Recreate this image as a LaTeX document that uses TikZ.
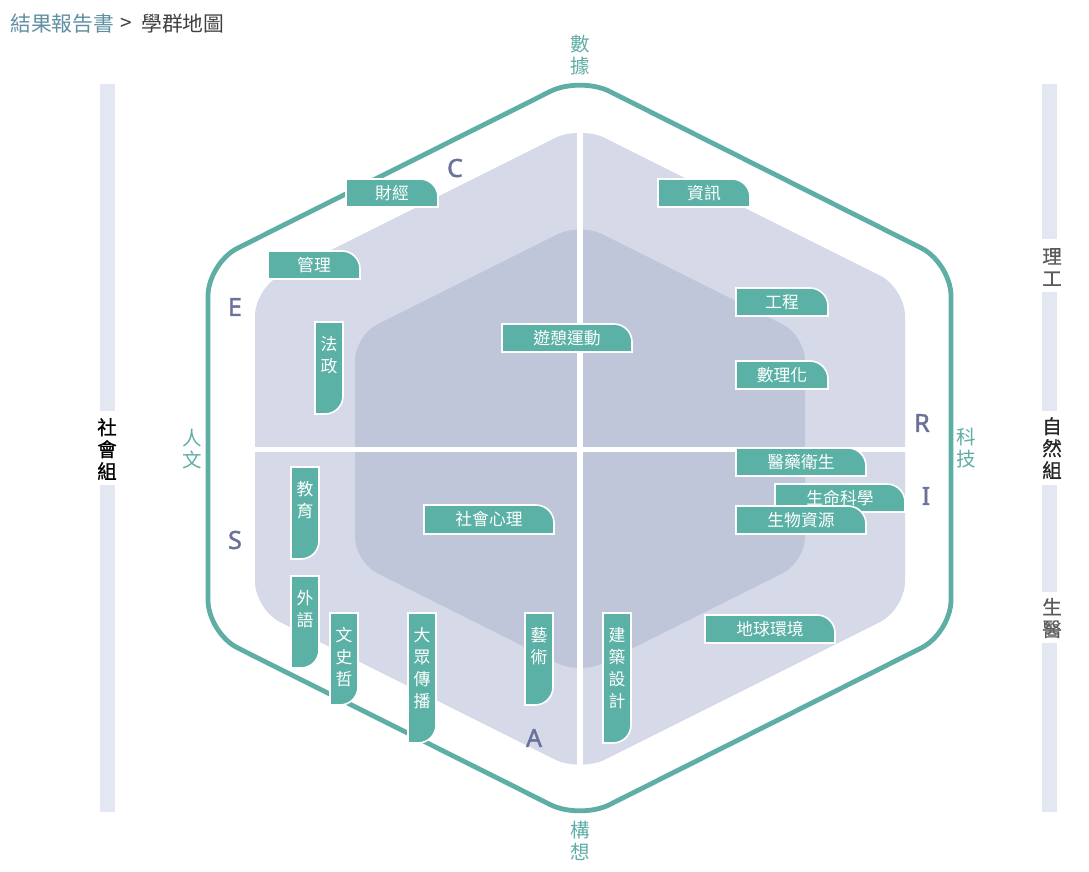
\documentclass[tikz,border=0pt]{standalone}
\usepackage{fontspec}
\setmainfont{Noto Sans CJK TC}
\newfontfamily\latinf[FakeBold=1.6]{Noto Sans}
\newfontfamily\sidef[FakeBold=0.8]{Noto Sans CJK TC}
\definecolor{hexlight}{HTML}{D6DAE8}
\definecolor{hexinner}{HTML}{BFC6D9}
\definecolor{tealtag}{HTML}{5BB1A5}
\definecolor{tealline}{HTML}{5FAEA6}
\definecolor{barc}{HTML}{E2E7F1}
\definecolor{letterc}{HTML}{6B7299}
\definecolor{crumb}{HTML}{5F8FA3}
\definecolor{greytxt}{HTML}{5A5A5A}
\tikzset{
  tagbox/.style={fill=tealtag,draw=white,line width=1.6pt},
  tagtext/.style={text=white,inner sep=0pt,align=center,font=\fontsize{16.8}{22}\selectfont},
  riasec/.style={text=letterc,inner sep=0pt,font=\latinf\fontsize{25}{25}\selectfont},
  axislabel/.style={text=tealline,inner sep=0pt,align=center,font=\fontsize{19.5}{21.5}\selectfont},
  sidelabel/.style={inner sep=0pt,align=center,font=\sidef\fontsize{19.5}{22}\selectfont},
  sidebar/.style={fill=barc,draw=none},
  crumbtext/.style={anchor=west,inner sep=0pt,font=\fontsize{20.8}{24}\selectfont},
}
% name, x0, y0, x1, y1, text
\newcommand{\htagbox}[6]{%
  \path[tagbox] (#2,#3) [rounded corners=18] -- (#4,#3) [sharp corners] -- (#4,#5) -- (#2,#5) -- cycle;
  \node[tagtext] (#1) at ({(#2+#4)/2},{(#3+#5)/2}) {#6};}
% name, x0, y0, x1, y1, lines, text
\newcommand{\vtagbox}[7]{%
  \path[tagbox] (#2,#3) -- (#4,#3) [rounded corners=18] -- (#4,#5) [sharp corners] -- (#2,#5) -- cycle;
  \node[tagtext] (#1) at ({(#2+#4)/2},{#3+22+(#6-1)*11}) {#7};}
\begin{document}
\begin{tikzpicture}[x=1pt,y=-1pt]
\useasboundingbox (0,0) rectangle (1089,871);
\fill[white] (0,0) rectangle (1089,871);
% hexagons
\fill[hexlight,rounded corners=28] (580,125.5) -- (905,288) -- (905,609.5) -- (580,772) -- (255,609.5) -- (255,288) -- cycle;
\fill[hexinner,rounded corners=25] (580,223) -- (805,335.5) -- (805,562) -- (580,674.5) -- (355,562) -- (355,335.5) -- cycle;
\draw[tealline,line width=4.8pt,rounded corners=33] (580,76.5) -- (951,263) -- (951,633) -- (580,819.5) -- (208,633) -- (208,263) -- cycle;
% cross
\fill[white] (577.3,120) rectangle (582.7,778);
\fill[white] (250,447.3) rectangle (910,451.5);
% side bars
\fill[sidebar] (100,84) rectangle (115,411);
\fill[sidebar] (100,485) rectangle (115,812);
\fill[sidebar] (1042,84) rectangle (1057,239);
\fill[sidebar] (1042,292) rectangle (1057,411);
\fill[sidebar] (1042,485) rectangle (1057,592);
\fill[sidebar] (1042,643) rectangle (1057,812);
% tags
\htagbox{caijing}{346}{179}{438}{207}{財經}
\htagbox{zixun}{658}{179}{750}{207}{資訊}
\htagbox{guanli}{268}{251}{360}{279}{管理}
\htagbox{gongcheng}{736}{288}{828}{316}{工程}
\htagbox{youqi}{502}{324}{632}{352}{遊憩運動}
\htagbox{shuli}{736}{361}{828}{389}{數理化}
\htagbox{yiyao}{736}{448}{866}{476}{醫藥衛生}
\htagbox{shengming}{775}{484}{905}{512}{生命科學}
\htagbox{shengwu}{736}{506}{866}{534}{生物資源}
\htagbox{shehui}{424}{505}{554}{534}{社會心理}
\htagbox{diqiu}{705}{615}{835}{643}{地球環境}
\vtagbox{fazheng}{315}{322}{343}{414}{2}{法\\政}
\vtagbox{jiaoyu}{291}{467}{319}{559}{2}{教\\育}
\vtagbox{waiyu}{291}{576}{319}{668}{2}{外\\語}
\vtagbox{wenshi}{330}{613}{358}{705}{3}{文\\史\\哲}
\vtagbox{dazhong}{408}{613}{436}{743}{4}{大\\眾\\傳\\播}
\vtagbox{yishu}{525}{613}{553}{705}{2}{藝\\術}
\vtagbox{jianzhu}{603}{613}{631}{743}{4}{建\\築\\設\\計}
% RIASEC letters
\node[riasec] (lc) at (455,168) {C};
\node[riasec] (le) at (235,307) {E};
\node[riasec] (ls) at (235,540) {S};
\node[riasec] (la) at (534,738) {A};
\node[riasec] (lr) at (922,423) {R};
\node[riasec] (li) at (926,496) {I};
% axis labels
\node[axislabel] (shuju) at (580,55) {數\\據};
\node[axislabel] (gouxiang) at (580,841) {構\\想};
\node[axislabel] (renwen) at (192,449) {人\\文};
\node[axislabel] (keji) at (966,448) {科\\技};
% side labels
\node[sidelabel,text=black] (shehuizu) at (107,449) {社\\會\\組};
\node[sidelabel,text=greytxt] (ligong) at (1052,267) {理\\工};
\node[sidelabel,text=black!85] (ziranzu) at (1052,448) {自\\然\\組};
\node[sidelabel,text=greytxt] (shengyi) at (1052,618) {生\\醫};
% breadcrumb
\node[crumbtext,text=crumb] (crumbA) at (10,24) {結果報告書};
\node[crumbtext,text=black!75] (crumbB) at (120,24) {>};
\node[crumbtext,text=black!75] (crumbC) at (141,24) {學群地圖};
\end{tikzpicture}
\end{document}
